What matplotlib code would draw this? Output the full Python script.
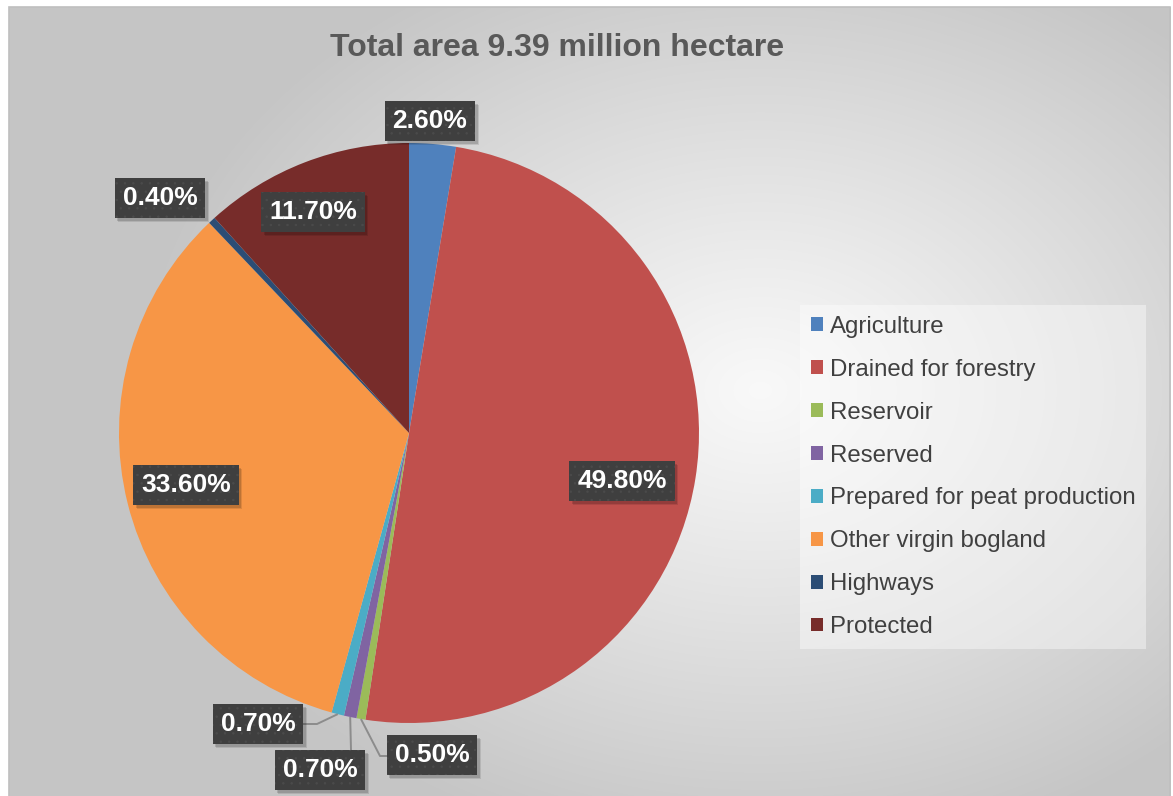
import numpy as np
import matplotlib
matplotlib.use("Agg")
import matplotlib.pyplot as plt
from matplotlib.patches import Rectangle

# ---- data ----
categories = ["Agriculture", "Drained for forestry", "Reservoir", "Reserved",
              "Prepared for peat production", "Other virgin bogland",
              "Highways", "Protected"]
values = [2.6, 49.8, 0.5, 0.7, 0.7, 33.6, 0.4, 11.7]
colors = ["#4F81BD", "#C0504D", "#9BBB59", "#8064A2", "#4BACC6", "#F79646",
          "#2C4D75", "#772C2A"]
title = "Total area 9.39 million hectare"

plt.rcParams["font.family"] = ["Liberation Sans", "DejaVu Sans"]
plt.rcParams["hatch.linewidth"] = 0.5

W, H = 1173, 796
fig = plt.figure(figsize=(W / 100, H / 100), dpi=100)
ax = fig.add_axes([0, 0, 1, 1])
cx, cy, R = 409, 433, 290


def px(x, y):
    return ((x - cx) / R, (cy - y) / R)


xlim = (-cx / R, (W - cx) / R)
ylim = ((cy - H) / R, cy / R)

# ---- background gradient ----
yy, xx = np.mgrid[0:H, 0:W]
d = np.sqrt(((xx - 760) / 620.0) ** 2 + ((yy - 390) / 470.0) ** 2)
d = np.clip(d, 0, 1)
g = 0.975 - (0.975 - 0.775) * d ** 1.1
outside = (xx < 9) | (xx > 1170) | (yy < 7)
g[outside] = 1.0
img = np.dstack([g, g, g])
ax.imshow(img, extent=(xlim[0], xlim[1], ylim[0], ylim[1]), origin="upper",
          zorder=0, aspect="auto", interpolation="bilinear")
x0, y0 = px(9, 800)
x1, y1 = px(1170, 7)
ax.add_patch(Rectangle((x0, y0), x1 - x0, y1 - y0, fill=False,
                       edgecolor="#bfbfbf", linewidth=1.2, zorder=1))

# ---- pie ----
wedges, _ = ax.pie(values, colors=colors, startangle=90, counterclock=False,
                   radius=1, center=(0, 0), wedgeprops=dict(linewidth=0))
for w in wedges:
    w.set_zorder(2)

ax.set_xlim(*xlim)
ax.set_ylim(*ylim)
ax.set_aspect("auto")
ax.axis("off")

# ---- leader lines ----
leader_paths = {4: [(317, 724), (303, 724)],
                3: [(351, 750)],
                2: [(380, 756), (390, 756)]}
for i, pts in leader_paths.items():
    w = wedges[i]
    th = np.deg2rad((w.theta1 + w.theta2) / 2)
    xs = [np.cos(th)] + [px(*p)[0] for p in pts]
    ys = [np.sin(th)] + [px(*p)[1] for p in pts]
    ax.plot(xs, ys, color="#8c8c8c", linewidth=1.4, zorder=3,
            solid_capstyle="butt")

# ---- data labels ----
label_pos = [(430, 121), (622, 481), (432, 755), (320, 770), (258, 724),
             (186, 485), (160, 198), (313, 212)]
label_texts = []
for v, p in zip(values, label_pos):
    lx, ly = px(*p)
    t = ax.text(lx, ly, f"{v:.2f}%", color="white", fontsize=19,
                fontweight="bold", ha="center", va="center", zorder=5,
                bbox=dict(boxstyle="square,pad=0.3", facecolor="#3f3f3f",
                          edgecolor="#4b4b4b", linewidth=0, hatch=".."))
    label_texts.append(t)

# soft shadows behind label boxes
fig.canvas.draw()
for t in label_texts:
    bb = t.get_bbox_patch().get_window_extent()
    for off, a in [((3.5, -4), 0.10), ((2.5, -3), 0.14)]:
        ax.add_patch(Rectangle((bb.x0 + off[0], bb.y0 + off[1]),
                               bb.width, bb.height, transform=None,
                               facecolor="black", alpha=a, linewidth=0,
                               zorder=4))

# ---- title ----
tx, ty = px(557, 48)
ax.text(tx, ty, title, fontsize=23, fontweight="bold", color="#595959",
        ha="center", va="center", zorder=5)

# ---- legend ----
leg = ax.legend(wedges, categories, loc="upper left",
                bbox_to_anchor=(800 / W, 1 - 645 / H, 346 / W, 340 / H),
                bbox_transform=fig.transFigure, mode="expand",
                fontsize=17.3, frameon=True, fancybox=False,
                facecolor="white", framealpha=0.4, edgecolor="none",
                handlelength=0.5, handleheight=0.5, handletextpad=0.3,
                labelspacing=0.87, borderpad=0.45, borderaxespad=0)
for txt in leg.get_texts():
    txt.set_color("#404040")
leg.set_zorder(6)

fig.savefig("out.png", dpi=100)
